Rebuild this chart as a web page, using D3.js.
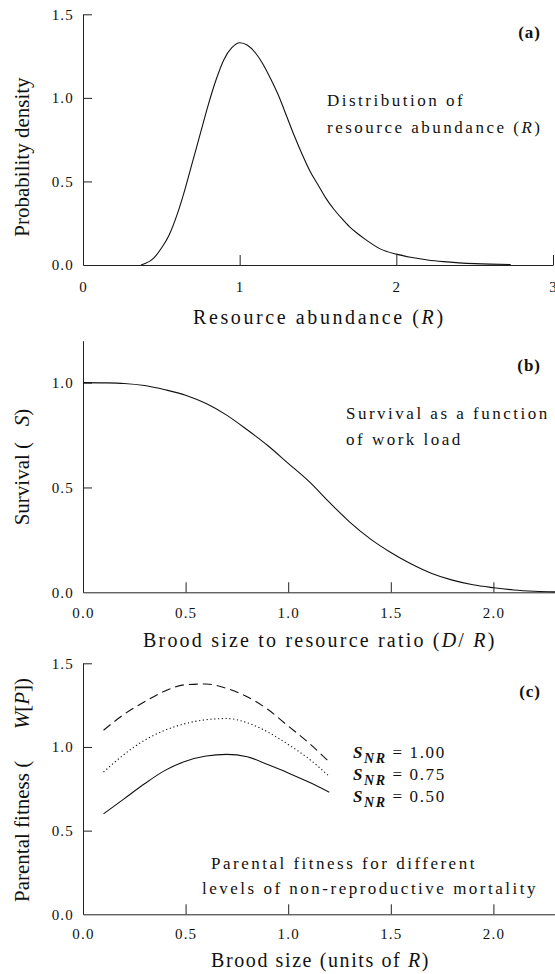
<!DOCTYPE html>
<html>
<head>
<meta charset="utf-8">
<script src="https://cdn.jsdelivr.net/npm/d3@7"></script>
<style>
	body { margin: 0; background: #fff; }
	svg { display: block; }
	svg text { font-family: "Liberation Serif", "Times New Roman", serif; fill: #111; }
	.axis path, .axis line { stroke: #222; stroke-width: 1; }
	.axis text { font-size: 15px; letter-spacing: 1.2px; }
	.curve { fill: none; stroke: #111; stroke-width: 1.1; }
	.note { font-size: 17px; letter-spacing: 2.5px; }
	.title { font-size: 20px; }
	.ylab { font-size: 21px; }
	.tag { font-size: 17px; font-weight: bold; letter-spacing: 1px; }
</style>
</head>
<body>
<script>
// (a) distribution of resource abundance
const resourceR = [0.37, 0.4, 0.45, 0.5, 0.55, 0.6, 0.65, 0.7, 0.75, 0.8, 0.85, 0.9, 0.95, 1.0, 1.05, 1.1, 1.15, 1.2, 1.25, 1.3, 1.35, 1.4, 1.45, 1.5, 1.55, 1.6, 1.65, 1.7, 1.75, 1.8, 1.9, 2.0, 2.1, 2.2, 2.3, 2.4, 2.5, 2.6, 2.73];
const densityR = [0, 0.01, 0.04, 0.10, 0.18, 0.30, 0.45, 0.62, 0.79, 0.96, 1.11, 1.23, 1.30, 1.33, 1.315, 1.27, 1.20, 1.11, 1.01, 0.89, 0.77, 0.66, 0.56, 0.48, 0.40, 0.335, 0.28, 0.23, 0.19, 0.155, 0.095, 0.065, 0.045, 0.03, 0.02, 0.013, 0.008, 0.005, 0.003];

// (b) survival vs brood size / resource ratio
const ratioDR = [0, 0.1, 0.2, 0.3, 0.4, 0.5, 0.6, 0.7, 0.8, 0.9, 1.0, 1.1, 1.2, 1.3, 1.4, 1.5, 1.6, 1.7, 1.8, 1.9, 2.0, 2.1, 2.2, 2.3, 2.4];
const survival = [1.0, 0.999, 0.996, 0.986, 0.966, 0.94, 0.90, 0.845, 0.775, 0.70, 0.615, 0.53, 0.43, 0.335, 0.255, 0.19, 0.135, 0.09, 0.058, 0.036, 0.022, 0.011, 0.005, 0.002, 0.001];

// (c) parental fitness for three levels of S_NR
const broodSize = [0.1, 0.2, 0.3, 0.4, 0.5, 0.6, 0.7, 0.8, 0.9, 1.0, 1.1, 1.2];
const fitness100 = [1.10, 1.195, 1.27, 1.335, 1.372, 1.376, 1.35, 1.30, 1.225, 1.125, 1.025, 0.91];
const fitness075 = [0.85, 0.955, 1.04, 1.10, 1.14, 1.163, 1.17, 1.145, 1.09, 1.015, 0.93, 0.825];
const fitness050 = [0.60, 0.69, 0.78, 0.86, 0.915, 0.946, 0.956, 0.942, 0.895, 0.845, 0.79, 0.73];
const snrLabels = ["1.00", "0.75", "0.50"];

const ticksAx = [0, 1, 2, 3];
const ticksAy = [0, 0.5, 1.0, 1.5];
const ticksBx = [0, 0.5, 1.0, 1.5, 2.0];
const ticksBy = [0, 0.5, 1.0];
const ticksCy = [0, 0.5, 1.0, 1.5];

let width = 555, height = 974;
let svg = d3.select("body").append("svg")
	.attr("width", width)
	.attr("height", height);

let zip = (xs, ys) => xs.map((x, i) => [x, ys[i]]);

let drawAxes = (x, y, xTicks, yTicks, xFmt, yFmt, xPad) => {
	let gx = svg.append("g")
		.attr("class", "axis")
		.attr("transform", `translate(0,${y.range()[0]})`)
		.call(d3.axisBottom(x).tickValues(xTicks).tickFormat(d3.format(xFmt))
			.tickSize(-10).tickSizeOuter(0).tickPadding(xPad));
	gx.selectAll(".tick text").attr("dy", null);
	let gy = svg.append("g")
		.attr("class", "axis")
		.attr("transform", `translate(${x.range()[0]},0)`)
		.call(d3.axisLeft(y).tickValues(yTicks).tickFormat(d3.format(yFmt))
			.tickSize(-9).tickSizeOuter(0).tickPadding(9));
	[gx, gy].forEach(g => g.attr("font-family", null).attr("font-size", null));
	svg.selectAll(".axis .tick line").filter(d => d === 0).remove();
};

// ---- panel a
let xa = d3.scaleLinear().domain([0, 3]).range([83, 553]);
let ya = d3.scaleLinear().domain([0, 1.5]).range([265, 14.3]);
drawAxes(xa, ya, ticksAx, ticksAy, "d", ".1f", 27);

svg.append("path")
	.datum(zip(resourceR, densityR))
	.attr("class", "curve")
	.attr("d", d3.line().x(d => xa(d[0])).y(d => ya(d[1])).curve(d3.curveMonotoneX));

// ---- panel b
let xb = d3.scaleLinear().domain([0, 2.5]).range([83, 596]);
let yb = d3.scaleLinear().domain([0, 1.2]).range([592.3, 340.7]);
drawAxes(xb, yb, ticksBx, ticksBy, ".1f", ".1f", 26);

svg.append("path")
	.datum(zip(ratioDR, survival))
	.attr("class", "curve")
	.attr("d", d3.line().x(d => xb(d[0])).y(d => yb(d[1])).curve(d3.curveMonotoneX));

// ---- panel c
let xc = d3.scaleLinear().domain([0, 2.5]).range([83, 596]);
let yc = d3.scaleLinear().domain([0, 1.5]).range([914.3, 663.3]);
drawAxes(xc, yc, ticksBx, ticksCy, ".1f", ".1f", 25);

let lineC = d3.line().x(d => xc(d[0])).y(d => yc(d[1])).curve(d3.curveMonotoneX);
[
	{v: fitness100, dash: "9,5"},
	{v: fitness075, dash: "1.2,2.6"},
	{v: fitness050, dash: null}
].forEach(s => {
	svg.append("path")
		.datum(zip(broodSize, s.v))
		.attr("class", "curve")
		.attr("stroke-dasharray", s.dash)
		.attr("d", lineC);
});

// ---- text
let addText = (x, y, cls, anchor, parts, opts = {}) => {
	let t = svg.append("text")
		.attr("class", cls)
		.attr("x", x)
		.attr("y", y)
		.attr("text-anchor", anchor);
	if (opts.rotate) t.attr("transform", `rotate(-90,${x},${y})`);
	if (opts.ls != null) t.style("letter-spacing", opts.ls + "px");
	parts.forEach(p => {
		let ts = t.append("tspan").text(p.t);
		if (p.i) ts.style("font-style", "italic");
		if (p.b) ts.style("font-weight", "bold");
		if (p.size) ts.style("font-size", p.size + "px");
		if (p.dy) ts.attr("dy", p.dy);
	});
	return t;
};

addText(541, 38, "tag", "end", [{t: "(a)"}]);
addText(541, 371, "tag", "end", [{t: "(b)"}]);
addText(541, 697, "tag", "end", [{t: "(c)"}]);

addText(327, 106, "note", "start", [{t: "Distribution of"}]);
addText(327, 133, "note", "start", [{t: "resource abundance ("}, {t: "R", i: true}, {t: ")"}]);
addText(346, 419, "note", "start", [{t: "Survival as a function"}]);
addText(346, 445, "note", "start", [{t: "of work load"}]);
addText(211, 869, "note", "start", [{t: "Parental fitness for different"}]);
addText(202, 894, "note", "start", [{t: "levels of non-reproductive mortality"}]);

addText(193, 324, "title", "start", [{t: "Resource abundance ("}, {t: "R", i: true}, {t: ")"}], {ls: 2.6});
addText(143, 647, "title", "start", [{t: "Brood size to resource ratio ("}, {t: "D", i: true}, {t: "/ "}, {t: "R", i: true}, {t: ")"}], {ls: 2.2});
addText(211, 967, "title", "start", [{t: "Brood size (units of "}, {t: "R", i: true}, {t: ")"}], {ls: 1.6});

addText(29, 157, "ylab", "middle", [{t: "Probability density"}], {rotate: true});
addText(29, 467, "ylab", "middle", [{t: "Survival (\u00a0\u00a0\u00a0"}, {t: "S", i: true}, {t: ")"}], {rotate: true});
addText(29, 790, "ylab", "middle", [{t: "Parental fitness (\u00a0\u00a0\u00a0\u00a0\u00a0\u00a0"}, {t: "W", i: true}, {t: "["}, {t: "P", i: true}, {t: "])"}], {rotate: true});

snrLabels.forEach((lab, i) => {
	addText(353, 758 + i * 22, "legend", "start", [
		{t: "S", i: true, b: true, size: 17},
		{t: "NR", i: true, b: true, size: 14, dy: 5},
		{t: "\u00a0= " + lab, size: 17, dy: -5}
	], {ls: 1.6});
});
</script>
</body>
</html>
